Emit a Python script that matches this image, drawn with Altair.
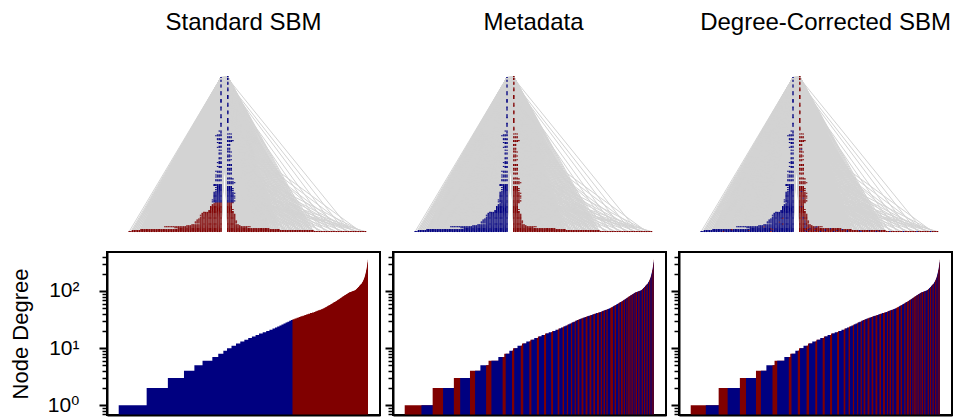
import altair as alt
import pandas as pd
import numpy as np

BLUE = "#000080"
RED = "#800000"
EDGE = "#d3d3d3"
FONT = "Liberation Sans, Arial, DejaVu Sans"

titles = ["Standard SBM", "Metadata", "Degree-Corrected SBM"]
title_dx = [0, 4, 10]

# number of nodes having degree 1..103
deg_counts = [137, 104, 79, 51, 40, 48, 29, 25, 18, 22,
              22, 21, 20, 19, 18, 18, 17, 18, 17, 16,
              15, 12, 11, 11, 10, 10, 10, 9, 9, 8,
              8, 10, 10, 10, 9, 10, 9, 10, 9, 9,
              10, 9, 7, 7, 7, 7, 7, 6, 5, 5,
              4, 5, 4, 4, 4, 4, 3, 4, 3, 4,
              3, 3, 3, 4, 3, 3, 3, 2, 3, 3,
              3, 2, 3, 2, 2, 3, 2, 2, 2, 3,
              2, 2, 2, 3, 2, 2, 2, 2, 3, 2,
              2, 2, 2, 3, 3, 4, 3, 3, 3, 3,
              4, 3, 3]
# degrees 1..48: how many belong to the red (right-hand) metadata group
red_counts = [82, 51, 31, 25, 12, 14, 8, 7, 5, 6,
              6, 6, 5, 5, 5, 5, 5, 5, 5, 4,
              4, 4, 3, 4, 3, 3, 3, 3, 3, 3,
              4, 4, 5, 4, 4, 5, 4, 5, 4, 4,
              5, 4, 3, 4, 3, 4, 3, 3]
# degrees 49..103: group of those nodes (1 = red)
tail_red = [0, 0, 1, 1, 1, 0, 0, 1, 1, 0,
            0, 0, 1, 1, 0, 0, 1, 1, 1, 0,
            0, 1, 1, 0, 0, 0, 1, 1, 0, 0,
            1, 1, 1, 0, 0, 1, 1, 0, 1, 1,
            0, 0, 1, 1, 0, 0, 1, 1, 0, 0,
            1, 1, 0, 0, 1]
# individual hub nodes (degree > 103) and their metadata group (1 = red)
hub_degrees = [104, 105, 106, 106, 107, 108, 109, 110, 111, 112, 113, 114, 115, 116, 117,
               118, 119, 120, 122, 123, 124, 125, 126, 127, 128, 130, 131, 132, 133, 134,
               135, 137, 139, 141, 143, 145, 148, 150, 153, 156, 159, 162, 165, 169, 173,
               178, 183, 188, 194, 201, 209, 216, 225, 234, 245, 257, 271, 287, 305, 325, 351]
hub_red = [0, 0, 0, 0, 1, 1, 1, 1, 0, 0,
           0, 0, 1, 1, 1, 1, 1, 0, 0, 0,
           0, 1, 1, 1, 1, 0, 0, 0, 0, 1,
           1, 1, 1, 0, 0, 0, 0, 1, 1, 1,
           1, 0, 0, 0, 0, 1, 1, 1, 1, 0,
           0, 0, 1, 1, 1, 0, 0, 1, 1, 0, 1]
# nodes the degree-corrected SBM puts in the other group
dc_flip_degree = [1, 2, 3, 4, 5, 6, 7, 8, 10, 12, 14, 16, 27, 36, 43, 87, 1, 2, 3, 4, 6, 9, 11, 15]
dc_flip_side = [1] * 16 + [0] * 8
dc_flip_count = [10, 8, 3, 2, 2, 2, 1, 1, 1, 1, 1, 1, 1, 1, 1, 1, 2, 1, 2, 1, 1, 1, 1, 1]
# standard SBM splits the nodes by degree
sbm_split_degree = 31

major_ticks = [1, 10, 100]
minor_ticks = [0.7, 0.8, 0.9, 2, 3, 4, 5, 6, 7, 8, 9, 20, 30, 40, 50, 60, 70, 80, 90, 200, 300, 400]
YMIN, YMAX = 0.676, 481

# ---------------- node table ----------------
red_all = red_counts + [c * s for c, s in zip(deg_counts[48:], tail_red)]
recs = []
for d, (n, r) in enumerate(zip(deg_counts, red_all), start=1):
    recs += [(d, 0)] * (n - r) + [(d, 1)] * r
for d, r in zip(hub_degrees, hub_red):
    recs.append((d, r))
nodes = pd.DataFrame(recs, columns=["degree", "red"])
distinct = sorted(nodes["degree"].unique())
rank = {d: i for i, d in enumerate(distinct)}
R = len(distinct)
N = len(nodes)
nodes["rank"] = nodes["degree"].map(rank)
nodes["k"] = nodes.groupby(["degree", "red"]).cumcount()
nodes["x"] = np.where(nodes["red"] == 1, 2 + nodes["k"], -(2 + nodes["k"]))

dc_red = nodes["red"].copy()
for d, s, m in zip(dc_flip_degree, dc_flip_side, dc_flip_count):
    idx = nodes.index[(nodes["degree"] == d) & (nodes["red"] == s)]
    n = len(idx)
    m = min(m, n)
    for j in range(m):
        dc_red.loc[idx[int((j + 0.5) * n / m)]] = 1 - s
nodes["dcred"] = dc_red
nodes["c_sbm"] = np.where(nodes["degree"] > sbm_split_degree, BLUE, RED)
nodes["c_meta"] = np.where(nodes["red"] == 1, RED, BLUE)
nodes["c_dc"] = np.where(nodes["dcred"] == 1, RED, BLUE)
nodes["x0"] = nodes["x"] - 0.45
nodes["x1"] = nodes["x"] + 0.45
nodes["y0"] = nodes["rank"] - 0.55
nodes["y1"] = nodes["rank"] + 0.55

# ---------------- edges ----------------
left_sorted = nodes[nodes["red"] == 0].sort_values("rank", ascending=False)
right_sorted = nodes[nodes["red"] == 1].sort_values("rank", ascending=False)
apexL = left_sorted.iloc[0]
apexR = right_sorted.iloc[0]
e = []
for i, nd in nodes.iterrows():
    if nd["degree"] >= 2:
        for ap in (apexL, apexR):
            if ap.name != i:
                e.append((nd["x"], nd["rank"], ap["x"], ap["rank"]))
    elif nd["red"] == 0:
        e.append((nd["x"], nd["rank"], apexL["x"], apexL["rank"]))
    else:
        p = right_sorted.iloc[(int(nd["k"]) * 37) % 150]
        e.append((nd["x"], nd["rank"], p["x"], p["rank"]))
edges = pd.DataFrame(e, columns=["ex", "ey", "ex2", "ey2"])

# ---------------- bar runs ----------------
def runs(red_col, mode):
    out = []
    start = 0
    for d in distinct:
        sub = nodes[nodes["degree"] == d]
        if mode == "sbm":
            out.append((start, d, BLUE if d <= sbm_split_degree else RED))
            start += len(sub)
            continue
        nr = int((sub[red_col] == 1).sum())
        nb = len(sub) - nr
        parts = [(nr, RED), (nb, BLUE)]
        if d > 3 and d % 2 == 1:
            parts = parts[::-1]
        for cnt, c in parts:
            if cnt:
                out.append((start, d, c))
                start += cnt
    df = pd.DataFrame(out, columns=["s", "degree", "col"])
    df["e"] = N
    return df

bar_data = [runs(None, "sbm"), runs("red", "split"), runs("dcred", "split")]
top_cols = ["c_sbm", "c_meta", "c_dc"]

TW = 273
TH = 156
BH = 163
xs_top = alt.Scale(domain=[-69.06, 91.53], nice=False, zero=False)
ys_top = alt.Scale(domain=[-0.5, R - 0.5], nice=False, zero=False)
xs_bar = alt.Scale(domain=[-57.4, N + 59], nice=False, zero=False)
ys_bar = alt.Scale(type="log", domain=[YMIN, YMAX], nice=False)

is_major = "abs(log(datum.value)/LN10 - round(log(datum.value)/LN10)) < 0.001"
label_expr = ("(" + is_major + ") ? ('10' + (round(log(datum.value)/LN10) == 0 ? '\u2070' : "
              "(round(log(datum.value)/LN10) == 1 ? '\u00b9' : '\u00b2'))) : ''")

tops = []
for t, dx, col in zip(titles, title_dx, top_cols):
    el = alt.Chart(edges).mark_rule(color=EDGE, strokeWidth=1).encode(
        x=alt.X("ex:Q", scale=xs_top, axis=None),
        y=alt.Y("ey:Q", scale=ys_top, axis=None),
        x2="ex2:Q", y2="ey2:Q")
    nl = alt.Chart(nodes).mark_rect().encode(
        x=alt.X("x0:Q", scale=xs_top, axis=None), x2="x1:Q",
        y=alt.Y("y0:Q", scale=ys_top, axis=None), y2="y1:Q",
        color=alt.Color(col + ":N", scale=None))
    tops.append(alt.layer(el, nl).properties(
        width=TW, height=TH,
        title=alt.TitleParams(t, fontSize=24, font=FONT, fontWeight="normal",
                              color="black", offset=41, anchor="middle", dx=dx),
        view=alt.ViewBackground(stroke="transparent")))

tick_vals = sorted(major_ticks + minor_ticks)
tsize = {"condition": {"test": is_major, "value": 8}, "value": 5}
twidth = {"condition": {"test": is_major, "value": 2}, "value": 1.5}
bars = []
for j, bd in enumerate(bar_data):
    if j == 0:
        yaxis = alt.Axis(values=tick_vals, labelExpr=label_expr, grid=False,
                         tickSize=tsize, tickWidth=twidth,
                         tickColor="black", domainColor="black", domainWidth=2,
                         labelFont=FONT, labelFontSize=21, labelColor="black", labelPadding=20,
                         title="Node Degree",
                         titleFont=FONT, titleFontSize=22, titleFontWeight="normal",
                         titleColor="black", titlePadding=15, zindex=1)
    else:
        yaxis = alt.Axis(values=tick_vals, labels=False, grid=False,
                         tickSize=tsize, tickWidth=twidth,
                         tickColor="black", domainColor="black", domainWidth=2,
                         title=None, zindex=1)
    b = alt.Chart(bd).mark_rect().encode(
        x=alt.X("s:Q", scale=xs_bar,
                axis=alt.Axis(ticks=False, labels=False, grid=False, title=None,
                              domainColor="black", domainWidth=2, zindex=1)),
        x2="e:Q",
        y=alt.Y("degree:Q", scale=ys_bar, axis=yaxis),
        y2=alt.datum(YMIN),
        color=alt.Color("col:N", scale=None),
    ).properties(width=TW, height=BH,
                 view=alt.ViewBackground(stroke="black", strokeWidth=2))
    bars.append(b)

chart = alt.concat(*tops, *bars, columns=3, bounds="flush",
                   spacing=alt.RowColnumber(row=20, column=13)).properties(
    padding={"left": 8, "top": 10, "right": 5, "bottom": 2}
).configure(background="white")

chart.save("out.html", embed_options={"renderer": "svg", "actions": False})
